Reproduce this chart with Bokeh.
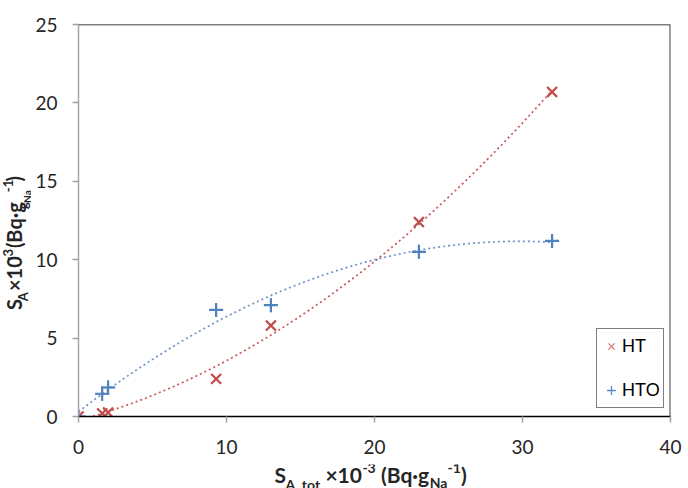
import math
import numpy as np
from bokeh.plotting import figure
from bokeh.layouts import row, column
from bokeh.models import Range1d, Legend, LegendItem, FixedTicker, Span
from bokeh.core.properties import value
from bokeh.embed import file_html
from bokeh.resources import INLINE

# ---- data ----
ht_x = [0.0, 1.6, 2.0, 9.3, 13.0, 23.0, 32.0]
ht_y = [0.0, 0.2, 0.25, 2.4, 5.8, 12.4, 20.7]
hto_x = [0.0, 1.6, 2.0, 9.3, 13.0, 23.0, 32.0]
hto_y = [0.0, 1.45, 1.85, 6.8, 7.1, 10.5, 11.2]
x_ticks = [0, 10, 20, 30, 40]
y_ticks = [0, 5, 10, 15, 20, 25]
series_names = ["HT", "HTO"]

RED = "#c0504d"
BLUE = "#4f81bd"
TXT = "#262626"
TITLE_FONT = "Lato"
ASC = 0.987  # Lato ascent (em)

# ---- geometry (page pixels) ----
YT_W = 31
MAIN_H = 464
XT_H = 488 - MAIN_H
P_W = 688 - YT_W

p = figure(width=P_W, height=MAIN_H, x_range=Range1d(0, 40), y_range=Range1d(0, 25),
           output_backend="svg", toolbar_location=None,
           min_border_left=78 - YT_W, min_border_right=P_W - (78 - YT_W) - 592,
           min_border_top=24, min_border_bottom=MAIN_H - 24 - 392)
p.background_fill_color = "white"
p.border_fill_color = "white"
p.outline_line_color = None
p.xgrid.visible = False
p.ygrid.visible = False

p.xaxis.ticker = FixedTicker(ticks=x_ticks)
p.yaxis.ticker = FixedTicker(ticks=y_ticks)
for ax in (p.xaxis, p.yaxis):
    ax.minor_tick_line_color = None
    ax.major_tick_in = 0
    ax.major_tick_out = 6
    ax.major_tick_line_color = "#a0a0a0"
    ax.major_tick_line_width = 1.5
    ax.major_label_text_font = "Lato"
    ax.major_label_text_font_size = "19px"
    ax.major_label_text_color = TXT
p.xaxis.major_label_standoff = 17
p.yaxis.major_label_standoff = 15
p.xaxis.axis_line_color = "black"
p.xaxis.axis_line_width = 1.5
p.yaxis.axis_line_color = "#a6a6a6"
p.yaxis.axis_line_width = 1.5

p.add_layout(Span(location=25, dimension="width", line_color="black", line_width=1.5))
p.add_layout(Span(location=40, dimension="height", line_color="#404040", line_width=2))

# polynomial trend lines fitted to each series
xs = np.linspace(0, max(ht_x), 200)
c_ht = np.polyfit(ht_x, ht_y, 2)
c_hto = np.polyfit(hto_x, hto_y, 2)
p.line(xs, np.polyval(c_ht, xs), line_color="#c8575a", line_width=1.7, line_dash="2 3")
p.line(xs, np.polyval(c_hto, xs), line_color="#6f93c8", line_width=1.7, line_dash="2 3")

# thin, light copies of the series (hidden under the markers) used for the legend
lg_ht = p.scatter(ht_x, ht_y, marker="x", size=14, line_color="#d9787a", line_width=1.3)
lg_hto = p.scatter(hto_x, hto_y, marker="cross", size=14, line_color="#5b8ac6", line_width=1.3)

p.scatter(ht_x, ht_y, marker="x", size=14, line_color=RED, line_width=2.2)
p.scatter(hto_x, hto_y, marker="cross", size=14, line_color=BLUE, line_width=2.2)

legend = Legend(items=[LegendItem(label=series_names[0], renderers=[lg_ht]),
                       LegendItem(label=series_names[1], renderers=[lg_hto])],
                location=(518, 8), orientation="vertical")
legend.label_text_font = "Liberation Sans"
legend.label_text_font_size = "18px"
legend.label_text_color = "black"
legend.border_line_color = "black"
legend.border_line_width = 1
legend.padding = 3
legend.spacing = 16
legend.margin = 0
legend.glyph_width = 22
legend.glyph_height = 28
legend.label_height = 28
legend.label_standoff = 0
p.add_layout(legend, "center")


# ---- axis titles: text strips drawn as SVG text ----
def strip(w, h):
    f = figure(width=w, height=h, x_range=Range1d(0, w), y_range=Range1d(0, h),
               output_backend="svg", toolbar_location=None,
               x_axis_type=None, y_axis_type=None,
               min_border_left=0, min_border_right=0, min_border_top=0, min_border_bottom=0)
    f.outline_line_color = None
    f.background_fill_color = "white"
    f.border_fill_color = "white"
    return f


def put(f, x, y, text, size, angle=0.0):
    # anchor = top-left corner of the text line box
    f.text(x=[x], y=[y], text=[text], text_font=value(TITLE_FONT),
           text_font_size=value(f"{size}px"), text_font_style="bold",
           text_line_height=1.0, text_color=TXT, text_align="left",
           text_baseline="top", angle=angle)


# x title: S_{A, tot} ×10^{-3} (Bq·g_{Na}^{-1})
# pieces = (text, size, baseline page-y, em width, gap after)
xt = strip(688, XT_H)
x_pieces = [("S", 21, 482, 0.52, 0), ("A, tot", 14, 489, 2.50, 5),
            ("×10", 21, 482, 1.76, 0), ("-3", 14, 476, 0.97, 5),
            ("(Bq·g", 21, 482, 2.32, 0), ("Na", 14, 487, 1.27, 0),
            ("-1", 14, 476, 0.97, 0), (")", 21, 482, 0.32, 0)]
pos = 274.0
for t, s, base, em, gap in x_pieces:
    put(xt, pos, 488 - (base - ASC * s), t, s)
    pos += em * s + gap

# y title (rotated, reading upwards): S_A ×10^{-3} (Bq·g_{g_{Na}}^{-1})
# pieces = (text, size, baseline page-x, em width, gap after)
yt = strip(YT_W, MAIN_H)
y_pieces = [("S", 20, 21, 0.52, 0), ("A", 13, 27, 0.70, 3),
            ("×10", 20, 21, 1.76, 0), ("-3", 13, 15, 0.97, 3),
            ("(Bq·g", 20, 21, 2.32, 0), ("g", 13, 27, 0.55, 0),
            ("Na", 10, 30, 1.27, 0), ("-1", 13, 15, 0.97, 0),
            (")", 20, 21, 0.32, 0)]
pos = 338.0
for t, s, bx, em, gap in y_pieces:
    put(yt, bx - ASC * s, MAIN_H - pos, t, s, math.pi / 2)
    pos -= em * s + gap

layout = column(row(yt, p), xt)
open("out.html", "w").write(file_html(layout, INLINE))
